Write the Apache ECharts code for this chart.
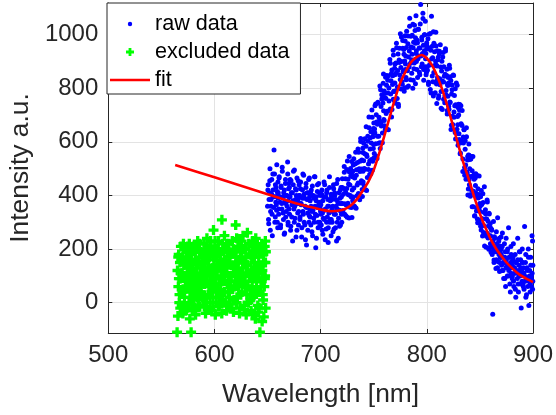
<!DOCTYPE html>
<html><head><meta charset="utf-8">
<script src="https://cdn.jsdelivr.net/npm/echarts@6/dist/echarts.min.js"></script>
<style>html,body{margin:0;padding:0;background:#fff}#c{width:556px;height:415px}</style>
</head><body><div id="c"></div>
<script>
// axis ticks
const xTicks = [500, 600, 700, 800, 900];
const yTicks = [0, 200, 400, 600, 800, 1000];
const xMin = 500, xMax = 900, yMin = -113, yMax = 1118;

// raw data (blue dots), wavelength [nm]
const rawX = [
650.3,650.9,651.4,652.1,652.6,653.2,653.9,654.3,655.0,655.6,656.1,656.9,657.4,657.8,658.5,659.1,659.6,659.9,
660.4,660.8,661.5,662.3,662.7,663.4,663.8,664.6,665.2,665.7,666.3,666.8,667.1,667.9,668.4,669.0,669.3,669.8,
670.2,670.7,671.3,671.9,672.5,673.0,673.6,674.2,674.8,675.3,675.9,676.4,677.0,677.7,678.1,678.8,679.3,679.9,
680.5,681.0,681.6,682.1,682.8,683.3,683.7,684.4,685.1,685.5,686.2,686.7,687.3,687.8,688.5,689.0,689.4,689.9,
690.1,690.8,691.2,691.9,692.4,693.1,693.5,694.2,694.7,695.4,695.8,696.5,697.0,697.6,698.1,698.7,699.2,699.8,
700.4,700.9,701.5,702.0,702.6,703.2,703.8,704.3,704.9,705.6,706.0,706.7,707.2,707.8,708.3,708.9,709.4,709.9,
710.3,710.9,711.4,712.1,712.6,713.2,713.9,714.3,715.0,715.6,716.1,716.9,717.4,717.8,718.5,719.1,719.6,719.9,
720.4,720.8,721.5,722.3,722.7,723.4,723.8,724.6,725.2,725.7,726.3,726.8,727.1,727.9,728.4,729.0,729.3,729.8,
730.2,730.7,731.3,731.9,732.5,733.0,733.6,734.2,734.8,735.3,735.9,736.4,737.0,737.7,738.1,738.8,739.3,739.9,
740.5,741.0,741.6,742.1,742.8,743.3,743.7,744.4,745.1,745.5,746.2,746.7,747.3,747.8,748.5,749.0,749.4,749.9,
750.1,750.8,751.2,751.9,752.4,753.1,753.5,754.2,754.7,755.4,755.8,756.5,757.0,757.6,758.1,758.7,759.2,759.8,
760.4,760.9,761.5,762.0,762.6,763.2,763.8,764.3,764.9,765.6,766.0,766.7,767.2,767.8,768.3,768.9,769.4,769.9,
770.3,770.9,771.4,772.1,772.6,773.2,773.9,774.3,775.0,775.6,776.1,776.9,777.4,777.8,778.5,779.1,779.6,779.9,
780.4,780.8,781.5,782.3,782.7,783.4,783.8,784.6,785.2,785.7,786.3,786.8,787.1,787.9,788.4,789.0,789.3,789.8,
790.2,790.7,791.3,791.9,792.5,793.0,793.6,794.2,794.8,795.3,795.9,796.4,797.0,797.7,798.1,798.8,799.3,799.9,
800.5,801.0,801.6,802.1,802.8,803.3,803.7,804.4,805.1,805.5,806.2,806.7,807.3,807.8,808.5,809.0,809.4,809.9,
810.1,810.8,811.2,811.9,812.4,813.1,813.5,814.2,814.7,815.4,815.8,816.5,817.0,817.6,818.1,818.7,819.2,819.8,
820.4,820.9,821.5,822.0,822.6,823.2,823.8,824.3,824.9,825.6,826.0,826.7,827.2,827.8,828.3,828.9,829.4,829.9,
830.3,830.9,831.4,832.1,832.6,833.2,833.9,834.3,835.0,835.6,836.1,836.9,837.4,837.8,838.5,839.1,839.6,839.9,
840.4,840.8,841.5,842.3,842.7,843.4,843.8,844.6,845.2,845.7,846.3,846.8,847.1,847.9,848.4,849.0,849.3,849.8,
850.2,850.7,851.3,851.9,852.5,853.0,853.6,854.2,854.8,855.3,855.9,856.4,857.0,857.7,858.1,858.8,859.3,859.9,
860.5,861.0,861.6,862.1,862.8,863.3,863.7,864.4,865.1,865.5,866.2,866.7,867.3,867.8,868.5,869.0,869.4,869.9,
870.1,870.8,871.2,871.9,872.4,873.1,873.5,874.2,874.7,875.4,875.8,876.5,877.0,877.6,878.1,878.7,879.2,879.8,
880.4,880.9,881.5,882.0,882.6,883.2,883.8,884.3,884.9,885.6,886.0,886.7,887.2,887.8,888.3,888.9,889.4,889.9,
890.3,890.9,891.4,892.1,892.6,893.2,893.9,894.3,895.0,895.6,896.1,896.9,897.4,897.8,898.5,899.1,899.6,899.9
];
// raw data intensity [a.u.]
const rawY = [
420,310,385,455,270,360,405,330,480,395,570,300,440,375,345,415,280,390,
350,465,395,290,430,370,505,335,410,255,380,445,320,400,360,480,300,425,
395,330,460,285,410,365,230,440,350,495,315,385,420,270,370,455,340,400,
310,425,370,245,390,480,330,405,290,360,445,215,385,335,410,300,465,350,
380,290,420,340,250,400,315,470,360,205,395,325,440,280,365,410,300,350,
330,405,270,380,315,450,345,235,395,300,420,360,280,335,470,310,385,250,
395,300,360,440,275,410,330,385,230,350,460,315,370,285,420,340,395,300,
430,332,405,487,369,462,324,426,529,371,443,316,488,400,473,355,527,420,
380,514,428,472,356,561,475,399,523,447,561,405,489,613,447,532,396,560,
530,436,612,498,584,419,545,621,497,693,529,615,481,596,692,528,634,590,
540,648,735,593,701,538,666,744,621,679,597,794,672,760,597,745,853,680,
780,646,762,848,714,830,645,801,717,893,779,855,721,847,942,788,754,850,
790,894,968,762,866,740,905,949,833,877,991,815,949,863,927,802,996,890,
840,952,804,995,917,879,1031,832,954,906,998,800,951,873,1035,907,988,1070,
900,980,840,1020,920,860,950,1112,880,990,930,1060,870,940,1000,910,850,970,
880,947,814,1001,888,795,942,1069,846,914,771,968,885,822,1009,886,743,940,
840,916,772,938,813,879,725,901,827,933,759,845,771,947,792,848,704,810,
820,722,875,747,829,662,794,696,849,711,773,635,738,820,632,695,587,740,
630,718,556,735,603,661,489,618,646,504,572,461,619,487,545,424,592,460,
500,403,536,419,492,545,358,461,324,466,409,342,475,298,391,404,297,360,
360,285,419,314,249,374,288,433,258,332,207,312,376,241,286,331,205,280,
188,274,221,-43,303,159,246,202,128,265,191,317,153,230,116,212,169,245,
200,120,260,150,90,220,170,60,240,140,190,100,280,130,170,40,210,150,
90,160,220,60,130,180,20,150,110,240,70,140,190,100,160,-20,120,200,
150,60,110,284,80,180,30,130,90,200,-10,120,70,170,100,250,50,140
];
// raw data, second pass of readings
const rawX2 = [
650.0,650.6,651.1,651.6,652.3,652.9,653.3,654.0,654.5,655.1,655.7,656.2,656.6,657.3,657.9,658.3,658.7,659.2,659.6,659.8,
660.1,660.5,661.0,661.8,662.2,662.7,663.5,663.9,664.6,665.0,665.8,666.1,666.9,667.2,667.6,668.2,668.9,669.3,669.5,669.9,
670.2,670.6,671.2,671.7,672.1,672.8,673.4,673.8,674.4,675.2,675.6,676.3,676.8,677.1,677.7,678.4,678.6,679.1,679.7,679.9,
680.0,680.6,681.1,681.6,682.3,682.9,683.3,684.0,684.5,685.1,685.7,686.2,686.6,687.3,687.9,688.3,688.7,689.2,689.6,689.8,
690.1,690.5,691.0,691.8,692.2,692.7,693.5,693.9,694.6,695.0,695.8,696.1,696.9,697.2,697.6,698.2,698.9,699.3,699.5,699.9,
700.2,700.6,701.2,701.7,702.1,702.8,703.4,703.8,704.4,705.2,705.6,706.3,706.8,707.1,707.7,708.4,708.6,709.1,709.7,709.9,
710.0,710.6,711.1,711.6,712.3,712.9,713.3,714.0,714.5,715.1,715.7,716.2,716.6,717.3,717.9,718.3,718.7,719.2,719.6,719.8,
720.1,720.5,721.0,721.8,722.2,722.7,723.5,723.9,724.6,725.0,725.8,726.1,726.9,727.2,727.6,728.2,728.9,729.3,729.5,729.9,
730.2,730.6,731.2,731.7,732.1,732.8,733.4,733.8,734.4,735.2,735.6,736.3,736.8,737.1,737.7,738.4,738.6,739.1,739.7,739.9,
740.0,740.6,741.1,741.6,742.3,742.9,743.3,744.0,744.5,745.1,745.7,746.2,746.6,747.3,747.9,748.3,748.7,749.2,749.6,749.8,
750.1,750.5,751.0,751.8,752.2,752.7,753.5,753.9,754.6,755.0,755.8,756.1,756.9,757.2,757.6,758.2,758.9,759.3,759.5,759.9,
760.2,760.6,761.2,761.7,762.1,762.8,763.4,763.8,764.4,765.2,765.6,766.3,766.8,767.1,767.7,768.4,768.6,769.1,769.7,769.9,
770.0,770.6,771.1,771.6,772.3,772.9,773.3,774.0,774.5,775.1,775.7,776.2,776.6,777.3,777.9,778.3,778.7,779.2,779.6,779.8,
780.1,780.5,781.0,781.8,782.2,782.7,783.5,783.9,784.6,785.0,785.8,786.1,786.9,787.2,787.6,788.2,788.9,789.3,789.5,789.9,
790.2,790.6,791.2,791.7,792.1,792.8,793.4,793.8,794.4,795.2,795.6,796.3,796.8,797.1,797.7,798.4,798.6,799.1,799.7,799.9,
800.0,800.6,801.1,801.6,802.3,802.9,803.3,804.0,804.5,805.1,805.7,806.2,806.6,807.3,807.9,808.3,808.7,809.2,809.6,809.8,
810.1,810.5,811.0,811.8,812.2,812.7,813.5,813.9,814.6,815.0,815.8,816.1,816.9,817.2,817.6,818.2,818.9,819.3,819.5,819.9,
820.2,820.6,821.2,821.7,822.1,822.8,823.4,823.8,824.4,825.2,825.6,826.3,826.8,827.1,827.7,828.4,828.6,829.1,829.7,829.9,
830.0,830.6,831.1,831.6,832.3,832.9,833.3,834.0,834.5,835.1,835.7,836.2,836.6,837.3,837.9,838.3,838.7,839.2,839.6,839.8,
840.1,840.5,841.0,841.8,842.2,842.7,843.5,843.9,844.6,845.0,845.8,846.1,846.9,847.2,847.6,848.2,848.9,849.3,849.5,849.9,
850.2,850.6,851.2,851.7,852.1,852.8,853.4,853.8,854.4,855.2,855.6,856.3,856.8,857.1,857.7,858.4,858.6,859.1,859.7,859.9,
860.0,860.6,861.1,861.6,862.3,862.9,863.3,864.0,864.5,865.1,865.7,866.2,866.6,867.3,867.9,868.3,868.7,869.2,869.6,869.8,
870.1,870.5,871.0,871.8,872.2,872.7,873.5,873.9,874.6,875.0,875.8,876.1,876.9,877.2,877.6,878.2,878.9,879.3,879.5,879.9,
880.2,880.6,881.2,881.7,882.1,882.8,883.4,883.8,884.4,885.2,885.6,886.3,886.8,887.1,887.7,888.4,888.6,889.1,889.7,889.9,
890.0,890.6,891.1,891.6,892.3,892.9,893.3,894.0,894.5,895.1,895.7,896.2,896.6,897.3,897.9,898.3,898.7,899.2,899.6,899.8
];
const rawY2 = [
360,440,295,410,500,340,385,460,250,420,355,395,480,320,430,365,515,300,405,450,
410,330,470,375,280,435,350,490,395,310,420,260,460,370,340,400,525,290,380,445,
350,430,395,270,455,320,410,380,490,300,360,425,245,400,465,335,385,290,440,370,
400,320,450,365,280,420,340,475,300,390,235,430,355,410,270,385,460,325,395,350,
320,410,360,265,435,345,390,300,470,330,380,240,415,355,300,445,375,285,400,340,
365,290,420,335,255,395,310,440,350,275,410,320,385,225,360,430,300,380,340,405,
310,385,350,265,425,330,400,280,360,445,300,375,240,410,345,390,290,430,330,370,
370,462,344,426,508,330,413,365,497,319,461,403,545,357,439,501,394,486,318,470,
490,394,537,361,465,518,352,496,439,573,407,500,384,528,601,455,499,422,576,490,
450,595,501,556,421,656,552,467,602,517,653,478,573,638,534,719,494,619,575,650,
670,557,634,741,547,674,621,748,595,692,808,575,732,659,776,633,819,716,683,790,
660,765,841,706,811,646,782,847,752,907,723,828,693,868,814,759,924,789,875,820,
890,744,857,951,805,928,732,896,849,1003,797,900,824,978,861,945,789,902,976,870,
920,832,1013,865,966,808,939,1061,893,994,856,927,1039,830,972,894,1015,817,968,930,
940,870,970,910,1020,950,850,1040,920,980,890,1080,960,830,1000,880,1050,930,860,960,
950,867,985,822,950,887,1004,782,909,957,824,1011,859,936,783,901,958,816,883,830,
820,906,763,929,835,962,788,864,721,917,823,880,746,852,939,775,871,717,814,770,
840,733,886,749,843,646,779,812,665,848,692,735,798,611,734,647,811,664,727,600,
700,609,739,558,668,597,717,536,596,645,475,604,514,653,483,532,402,551,471,550,
440,534,397,471,545,358,472,416,479,323,437,481,354,398,312,425,349,473,306,370,
340,395,271,366,291,406,262,337,212,347,313,248,383,258,304,199,334,249,295,220,
250,210,270,180,230,200,150,240,190,210,160,220,130,200,180,240,150,190,170,210,
180,140,210,120,170,150,90,190,130,160,100,200,140,120,170,70,150,110,180,130,
140,100,170,80,130,110,50,150,120,90,160,40,120,100,190,70,130,110,80,150,
110,70,130,50,100,150,20,90,120,60,170,80,100,40,140,90,60,110,230,80
];

// excluded data (green plus)
const exclX = [
565.2,565.6,566.0,566.3,564.8, 567.1,567.5,568.0,568.4, 569.2,569.6,570.1,570.5, 571.3,571.8,572.2,572.6,
573.1,573.7,574.0,574.4, 575.2,575.5,576.0,576.3,576.8, 577.4,577.9,578.3,578.6, 579.2,579.7,580.1,580.5,
581.3,581.6,582.0,582.4,578.0, 583.2,583.6,584.1,584.5, 585.3,585.7,586.2,586.6, 587.1,587.5,588.0,588.4,
589.2,589.7,590.1,590.5, 591.3,591.6,592.1,592.5, 593.2,593.6,594.0,594.4, 595.1,595.6,596.0,596.4,
597.3,597.7,598.2,598.6, 599.1,599.5,600.0,600.4,600.8, 601.3,601.7,602.2,602.6, 603.1,603.5,604.0,604.5,
605.2,605.6,606.1,606.5, 607.0,607.4,607.8,608.3,608.7, 609.2,609.6,610.1,610.5, 611.3,611.7,612.1,612.6,
613.2,613.6,614.0,614.4, 615.1,615.5,616.0,616.4, 617.2,617.6,618.1,618.5, 619.3,620.0,619.8,620.4,
621.2,621.6,622.1,622.5, 623.3,623.6,624.1,624.5, 625.2,625.6,626.0,626.4, 627.1,627.5,628.0,628.4,
629.3,629.7,630.1,630.5, 631.0,631.4,631.9,632.3, 633.2,633.6,634.1,634.5, 635.1,635.5,636.0,636.4,
637.3,637.7,638.1,638.5, 639.2,639.6,640.1,640.5, 641.3,641.7,642.0,642.4, 642.8,643.3,643.7,644.2,
645.1,645.5,646.0,646.5, 646.9,647.3,647.7,648.0,
566.5,567.8,568.8,569.9,570.8,571.5,572.9,573.4,574.8,575.8,576.6,577.2,578.9,579.5,580.8,581.9,582.8,583.9,584.8,585.9,
586.9,587.8,588.7,589.5,590.8,591.9,592.8,593.9,594.8,595.3,596.8,597.5,598.9,599.8,600.6,601.9,602.9,603.8,604.8,605.9,
606.8,607.6,608.9,609.9,610.8,611.5,612.9,613.8,614.8,615.8,616.8,617.9,618.8,619.5,620.8,621.9,622.8,623.9,624.8,625.9,
626.8,627.8,628.8,629.5,630.8,631.6,632.8,633.9,634.8,635.8,636.8,637.5,638.9,639.8,640.8,641.9,642.6,643.9,644.6,645.8,
646.2,647.5,648.2,648.4,565.9,566.9,568.2,570.3,572.4,574.7,577.0,579.9,582.2,584.2,586.4,588.9,590.4,592.9,595.9,598.4,
601.0,603.9,606.9,609.4,612.4,614.9,617.9,620.9,623.9,626.9,629.9,632.9,635.9,638.9,641.5,644.9,647.9
];
const exclY = [
120,-50,60,180,-110, 30,150,90,210, -10,110,170,50, 140,20,200,80,
60,190,-20,130, 100,160,0,220,-60, 40,120,180,-5, 150,70,210,10,
90,-30,160,50,-110, 130,200,20,80, 60,170,-15,110, 190,40,140,90,
10,120,220,70, 150,-40,100,180, 80,200,30,130, 170,60,-20,230,
110,190,40,0, 271,140,70,210,-45, 90,20,160,120, 200,50,130,-10,
30,180,100,150, 309,80,220,0,140, 160,40,110,200, -30,130,70,190,
100,220,20,150, 180,60,140,-20, 50,200,110,10, 140,290,80,170,
20,120,210,60, 160,-40,100,190, 90,230,40,130, 200,70,-10,150,
60,170,110,30, 261,140,0,220, 110,50,180,-30, 170,80,210,20,
30,150,100,-60, 190,60,130,220, 90,170,-20,40, -110,140,200,80,
120,30,180,-53, 60,210,100,150,
90,-20,160,40,220,100,-30,170,60,130,200,80,140,-25,100,190,30,150,-10,220,
70,130,20,180,110,200,0,160,60,120,210,-30,90,170,230,50,140,-15,190,70,
120,10,200,80,150,220,40,170,-5,100,230,130,60,190,0,150,90,210,30,170,
110,-25,80,200,140,60,180,10,120,230,90,170,40,110,-10,200,130,60,220,10,
150,90,-20,190,170,0,110,-40,150,210,20,110,-45,230,40,170,-15,240,20,130,
190,230,-40,250,-10,80,-35,240,-20,250,-45,100,-40,240,-35,-70,230
];

// fit curve
const fitX = [563,600,650,680,700,710,720,725,730,735,740,745,750,755,760,765,770,775,780,785,790,795,800,805,810,815,820,825,830,835,840,845,850,855,860,865,870,875,880,885,890,895,900];
const fitY = [514,468,405,367,348,341,346,354,368,390,420,452,495,555,622,692,760,820,862,896,915,924,912,885,843,790,725,655,583,515,455,390,332,282,238,203,175,150,130,112,98,87,77];

const zip = (a, b) => a.map((v, i) => [v, b[i]]);
const FONT = 'Liberation Sans';
const TXT = '#262626';
const svgIcon = s => 'image://data:image/svg+xml;charset=utf-8,' + encodeURIComponent(s);
const dotIcon = svgIcon("<svg xmlns='http://www.w3.org/2000/svg' width='40' height='14'><circle cx='20' cy='7' r='2.2' fill='#0000ff'/></svg>");
const plusIcon = svgIcon("<svg xmlns='http://www.w3.org/2000/svg' width='40' height='14'><path d='M16 7H24M20 3V11' stroke='#00ff00' stroke-width='2.8'/></svg>");
const lineIcon = svgIcon("<svg xmlns='http://www.w3.org/2000/svg' width='40' height='14'><path d='M0 7H40' stroke='#ff0000' stroke-width='2.6'/></svg>");

const chart = echarts.init(document.getElementById('c'), null, {renderer: 'canvas'});
const yLabel = v => (yTicks.indexOf(v) >= 0 ? String(v) : '');
chart.setOption({
  animation: false,
  backgroundColor: '#fff',
  grid: {left: 107, right: 20, top: 3, bottom: 82, containLabel: false},
  legend: {
    left: 107, top: 3, orient: 'vertical',
    backgroundColor: '#fff', borderColor: TXT, borderWidth: 1, borderRadius: 0,
    padding: [10, 11, 3, 3], itemWidth: 40, itemHeight: 14, itemGap: 6,
    textStyle: {fontFamily: FONT, fontSize: 21.6, color: '#000'},
    data: [
      {name: 'raw data', icon: dotIcon},
      {name: 'excluded data', icon: plusIcon},
      {name: 'fit', icon: lineIcon}
    ]
  },
  xAxis: [{
    type: 'value', min: xMin, max: xMax, interval: 100,
    name: 'Wavelength [nm]', nameLocation: 'middle', nameGap: 49,
    nameTextStyle: {fontFamily: FONT, fontSize: 26.4, color: TXT},
    axisLine: {show: true, onZero: false, lineStyle: {color: TXT, width: 1}},
    axisTick: {show: true, inside: true, length: 4, lineStyle: {color: TXT}},
    axisLabel: {fontFamily: FONT, fontSize: 24, color: TXT, margin: 10},
    splitLine: {show: true, lineStyle: {color: '#e3e3e3', width: 1}}
  }, {
    type: 'value', min: xMin, max: xMax, interval: 100, position: 'top',
    axisLine: {show: true, onZero: false, lineStyle: {color: TXT, width: 1}},
    axisTick: {show: true, inside: true, length: 4, lineStyle: {color: TXT}},
    axisLabel: {show: false}, splitLine: {show: false}
  }],
  yAxis: [{
    type: 'value', min: yMin, max: yMax, minInterval: 200, maxInterval: 200,
    name: 'Intensity a.u.', nameLocation: 'middle', nameGap: 70,
    nameTextStyle: {fontFamily: FONT, fontSize: 26.4, color: TXT},
    axisLine: {show: true, onZero: false, lineStyle: {color: TXT, width: 1}},
    axisTick: {show: true, inside: true, length: 4, lineStyle: {color: TXT}},
    axisLabel: {fontFamily: FONT, fontSize: 24, color: TXT, margin: 10, formatter: yLabel, showMinLabel: false, showMaxLabel: false},
    splitLine: {show: true, lineStyle: {color: '#e3e3e3', width: 1}}
  }, {
    type: 'value', min: yMin, max: yMax, minInterval: 200, maxInterval: 200, position: 'right',
    axisLine: {show: true, onZero: false, lineStyle: {color: TXT, width: 1}},
    axisTick: {show: true, inside: true, length: 4, lineStyle: {color: TXT}},
    axisLabel: {show: false}, splitLine: {show: false}
  }],
  series: [{
    name: 'raw data', type: 'scatter', xAxisIndex: 0, yAxisIndex: 0,
    symbol: 'circle', symbolSize: 5, itemStyle: {color: '#0000ff', opacity: 1},
    data: zip(rawX, rawY).concat(zip(rawX2, rawY2)), z: 2
  }, {
    name: 'excluded data', type: 'scatter', xAxisIndex: 0, yAxisIndex: 0,
    symbol: 'path://M3,0H6V3H9V6H6V9H3V6H0V3H3Z', symbolSize: 10,
    itemStyle: {color: '#00ff00', opacity: 1},
    data: zip(exclX, exclY), z: 3
  }, {
    name: 'fit', type: 'line', xAxisIndex: 0, yAxisIndex: 0,
    symbol: 'none', showSymbol: false, smooth: 0.3,
    lineStyle: {color: '#ff0000', width: 2.6}, itemStyle: {color: '#ff0000'},
    data: zip(fitX, fitY), z: 4
  }]
});
</script>
</body></html>
